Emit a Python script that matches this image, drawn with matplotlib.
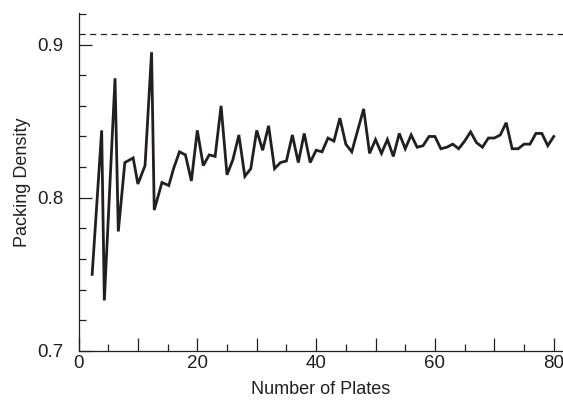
import numpy as np
import matplotlib
matplotlib.use("Agg")
import matplotlib.pyplot as plt
from matplotlib.ticker import MultipleLocator, FuncFormatter

plt.rcParams['font.family'] = ['Liberation Sans', 'DejaVu Sans']

# Number of plates (early configurations are irregular in spacing)
plates = [2.3, 3.9, 4.35, 6.15, 6.7, 7.8, 9.2, 10.0, 11.2, 12.3, 12.75, 14.05,
          15.2, 16, 17, 18, 19, 20, 21, 22, 23, 24, 25, 26, 27, 28, 29, 30,
          31, 32, 33, 34, 35, 36, 37, 38, 39, 40, 41, 42, 43, 44, 45, 46,
          47, 48, 49, 50, 51, 52, 53, 54, 55, 56, 57, 58, 59, 60, 61, 62,
          63, 64, 65, 66, 67, 68, 69, 70, 71, 72, 73, 74, 75, 76, 77, 78,
          79, 80]

# Packing density for each configuration
density = [0.750, 0.844, 0.733, 0.878, 0.778, 0.823, 0.826, 0.809, 0.821,
           0.895, 0.792, 0.810, 0.808, 0.819, 0.830, 0.828, 0.811, 0.844,
           0.821, 0.828, 0.827, 0.860, 0.815, 0.825, 0.841, 0.814, 0.819,
           0.844, 0.831, 0.847, 0.819, 0.823, 0.824, 0.841, 0.823, 0.842,
           0.823, 0.831, 0.830, 0.839, 0.837, 0.852, 0.835, 0.830, 0.844,
           0.858, 0.829, 0.838, 0.829, 0.838, 0.827, 0.842, 0.832, 0.841,
           0.833, 0.834, 0.840, 0.840, 0.832, 0.833, 0.835, 0.832, 0.837,
           0.843, 0.836, 0.833, 0.839, 0.839, 0.841, 0.849, 0.832, 0.832,
           0.835, 0.835, 0.842, 0.842, 0.834, 0.840]

# Hexagonal packing limit pi / (2*sqrt(3))
hex_limit = np.pi / (2 * np.sqrt(3))

ink = '#231f20'

fig = plt.figure(figsize=(5.63, 4.05), dpi=100)
ax = fig.add_axes([78.5 / 563, 54 / 405, 484.5 / 563, 338 / 405])

ax.plot(plates, density, color=ink, lw=2.0, solid_joinstyle='miter')
ax.axhline(hex_limit, color=ink, lw=0.9, ls=(0, (5, 3.5)))

ax.set_xlim(0, 81.56)
ax.set_ylim(0.7, 0.9206)

ax.xaxis.set_major_locator(MultipleLocator(10))
ax.xaxis.set_minor_locator(MultipleLocator(5))
ax.xaxis.set_major_formatter(
    FuncFormatter(lambda v, p: f"{v:.0f}" if round(v) % 20 == 0 else ""))
ax.yaxis.set_major_locator(MultipleLocator(0.1))
ax.yaxis.set_minor_locator(MultipleLocator(0.02))
ax.yaxis.set_major_formatter(FuncFormatter(lambda v, p: f"{v:.1f}"))

for side in ('top', 'right'):
    ax.spines[side].set_visible(False)
for side in ('left', 'bottom'):
    ax.spines[side].set_color(ink)
    ax.spines[side].set_linewidth(0.9)

ax.tick_params(which='both', direction='in', colors=ink, width=0.9,
               labelsize=13.5)
ax.tick_params(which='major', length=9.5)
ax.tick_params(which='minor', length=4.8)
ax.tick_params(axis='x', pad=3)
ax.tick_params(axis='y', pad=11)

ax.set_xlabel('Number of Plates', fontsize=13, color=ink, labelpad=6)
ax.set_ylabel('Packing Density', fontsize=13, color=ink, labelpad=4.5)

fig.savefig('out.png', dpi=100)
